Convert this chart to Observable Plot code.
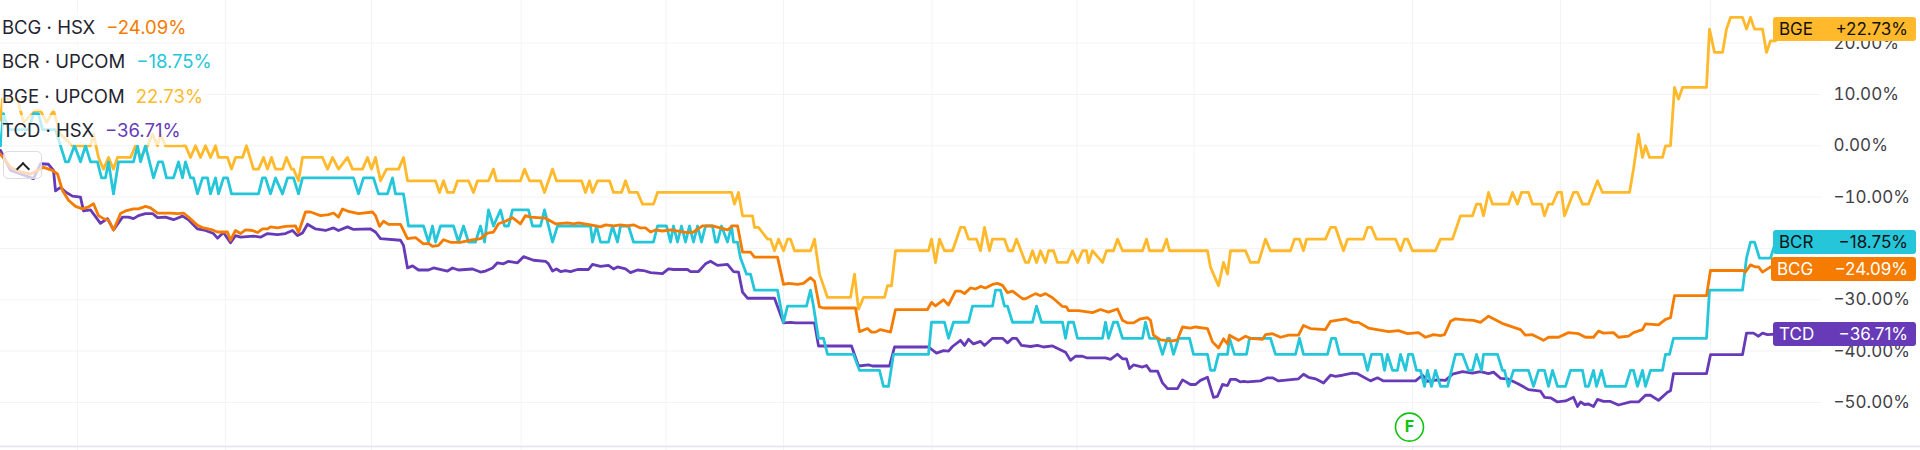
<!DOCTYPE html>
<html>
<head>
<meta charset="utf-8">
<script src="https://cdn.jsdelivr.net/npm/d3@7"></script>
<script src="https://cdn.jsdelivr.net/npm/@observablehq/plot@0.6"></script>
<style>
html,body{margin:0;padding:0;background:#fff;overflow:hidden}
#wrap{position:relative;width:1920px;height:450px;font-family:Inter,sans-serif}
svg{display:block}
.row{position:absolute;left:2px;height:30px;line-height:30px;font-size:18.5px;color:#1f2430;background:rgba(255,255,255,.7);white-space:pre;padding-right:2px}
.row span{margin-left:11px}
.tag{position:absolute;right:4px;height:24px;line-height:24px;font-size:17px;border-radius:3px;box-sizing:border-box}
.tag b{font-weight:400;position:absolute;left:6px;top:0}
.tag i{font-style:normal;position:absolute;right:8px;top:0}
#btn{position:absolute;left:2.5px;top:151px;width:39px;height:28px;box-sizing:border-box;border:1px solid #dcdce2;border-radius:5px;background:rgba(255,255,255,.72)}
#btn:after{content:"";position:absolute;left:14px;top:12px;width:8px;height:8px;border-left:2px solid #222;border-top:2px solid #222;transform:rotate(45deg)}
</style>
</head>
<body>
<div id="wrap"></div>
<script>
const gridTimes = [77,225,371,520.7,665.5,783,931.5,1076.5,1193.5,1412,1560,1710];
const gridValues = [20,10,0,-10,-20,-30,-40,-50];
const baseline = -58.6;
const fundEvent = {t:1409, v:-54.8, label:"F"};

const names = ["BCG · HSX","BCR · UPCOM","BGE · UPCOM","TCD · HSX"];
const symbols = ["BCG","BCR","BGE","TCD"];
const lastValues = [-24.09,-18.75,22.73,-36.71];
const colors = ["#f57c00","#26c6da","#ffb92b","#673ab7"];

// each pair: [time position, % change]
const bge = [[0,5],[2,9.09],[17,9.09],[23,4.55],[35,6.82],[40,6.82],[46,4.55],[53,6.82],[60,2.27],[72,0],[90,0],[93,2.27],[98,-2.27],[103,-4.55],[108,-2.27],[113,-4.55],[117,-2.27],[130,-2.27],[135,0],[140,-2.27],[147,0],[152,2.27],[157,0],[160,2.27],[165,0],[185,0],[190,-2.27],[195,0],[200,-2.27],[205,0],[210,-2.27],[215,0],[218,-2.27],[227,-2.27],[231,-4.55],[235,-2.27],[242,-2.27],[246,0],[253,-4.55],[258,-4.55],[263,-2.27],[267,-4.55],[271,-2.27],[275,-4.55],[282,-4.55],[286,-2.27],[291,-4.55],[293,-4.55],[298,-6.82],[302,-2.27],[322,-2.27],[327,-4.55],[332,-2.27],[338,-4.55],[347,-2.27],[352,-4.55],[362,-4.55],[367,-2.27],[371,-4.55],[375,-2.27],[380,-6.82],[386,-4.55],[398,-4.55],[403,-2.27],[407,-6.82],[435,-6.82],[439,-9.09],[443,-6.82],[447,-9.09],[453,-9.09],[457,-6.82],[468,-6.82],[473,-9.09],[477,-6.82],[488,-6.82],[493,-4.55],[496,-6.82],[520,-6.82],[524,-4.55],[529,-6.82],[540,-6.82],[544,-9.09],[552,-4.55],[556,-6.82],[581,-6.82],[585,-9.09],[589,-6.82],[592,-9.09],[597,-6.82],[609,-6.82],[613,-9.09],[621,-9.09],[625,-6.82],[629,-9.09],[637,-9.09],[642,-11.36],[653,-11.36],[657,-9.09],[731,-9.09],[734,-11.36],[738,-9.09],[742,-13.64],[752,-13.64],[754,-15.91],[758,-15.91],[767,-18.18],[770,-18.18],[774,-20.45],[778,-18.18],[783,-20.45],[787,-18.18],[790,-18.18],[794,-20.45],[810,-20.45],[814,-18.18],[819,-25],[827,-29.55],[850,-29.55],[854,-25],[858,-31.82],[863,-29.55],[884,-29.55],[887,-27.27],[891,-27.27],[895,-20.45],[928,-20.45],[931,-18.18],[935,-22.73],[939,-18.18],[944,-20.45],[952,-20.45],[960,-15.91],[964,-15.91],[968,-18.18],[976,-18.18],[980,-20.45],[984,-15.91],[989,-20.45],[992,-18.18],[1004,-18.18],[1008,-20.45],[1012,-20.45],[1016,-18.18],[1025,-22.73],[1028,-22.73],[1032,-20.45],[1036,-22.73],[1040,-20.45],[1045,-22.73],[1048,-20.45],[1053,-20.45],[1057,-22.73],[1067,-22.73],[1072,-20.45],[1077,-22.73],[1082,-20.45],[1086,-20.45],[1088,-22.73],[1092,-20.45],[1102,-22.73],[1106,-20.45],[1113,-20.45],[1117,-18.18],[1122,-20.45],[1142,-20.45],[1146,-18.18],[1149,-20.45],[1162,-20.45],[1166,-18.18],[1169,-20.45],[1207,-20.45],[1210,-23.64],[1218,-27.27],[1223,-22.73],[1227,-25],[1230,-20.45],[1245,-20.45],[1250,-22.73],[1258,-22.73],[1265,-18.18],[1270,-20.45],[1290,-20.45],[1294,-18.18],[1299,-18.18],[1303,-20.45],[1306,-18.18],[1325,-18.18],[1330,-15.91],[1335,-15.91],[1343,-20.45],[1347,-18.18],[1363,-18.18],[1367,-15.91],[1371,-15.91],[1376,-18.18],[1395,-18.18],[1400,-20.45],[1404,-18.18],[1407,-18.18],[1412,-20.45],[1435,-20.45],[1440,-18.18],[1452,-18.18],[1460,-13.64],[1472,-13.64],[1476,-11.36],[1480,-11.36],[1483,-13.64],[1488,-9.09],[1492,-11.36],[1508,-11.36],[1512,-9.09],[1517,-11.36],[1521,-9.09],[1528,-9.09],[1532,-11.36],[1541,-11.36],[1544,-13.64],[1548,-11.36],[1552,-11.36],[1557,-9.09],[1561,-9.09],[1564,-13.64],[1573,-9.09],[1577,-9.09],[1582,-11.36],[1588,-11.36],[1597,-6.82],[1602,-9.09],[1629,-9.09],[1633,-4.55],[1638,2.27],[1642,-2.27],[1645,0],[1649,-2.27],[1662,-2.27],[1665,0],[1670,0],[1674,11.36],[1678,9.09],[1682,11.36],[1706,11.36],[1709,22.73],[1714,18.18],[1722,18.18],[1726,22.73],[1730,25],[1742,25],[1746,22.73],[1750,25],[1754,22.73],[1762,22.73],[1766,18.18],[1770,20.45],[1775,20.45],[1778,22.73]];

const bcr = [[0,0],[3,6.25],[8,3.13],[28,3.13],[33,6.25],[38,6.25],[42,3.13],[55,3.13],[65,-3.13],[68,-3.13],[74,0],[80,-3.13],[85,0],[90,-3.13],[97,-3.13],[101,-6.25],[105,-6.25],[108,-3.13],[113,-9.38],[118,-3.13],[133,-3.13],[137,0],[140,-3.13],[145,0],[153,-6.25],[158,-3.13],[162,-3.13],[166,-6.25],[173,-6.25],[178,-3.13],[182,-6.25],[185,-3.13],[190,-6.25],[193,-6.25],[197,-9.38],[202,-6.25],[207,-6.25],[210,-9.38],[215,-6.25],[218,-9.38],[223,-6.25],[227,-6.25],[231,-9.38],[258,-9.38],[262,-6.25],[265,-6.25],[270,-9.38],[275,-6.25],[282,-9.38],[287,-6.25],[293,-6.25],[298,-9.38],[302,-6.25],[353,-6.25],[358,-9.38],[363,-6.25],[373,-6.25],[378,-9.38],[387,-9.38],[392,-6.25],[395,-9.38],[403,-9.38],[408,-15.63],[423,-15.63],[428,-18.75],[432,-15.63],[435,-18.75],[440,-15.63],[453,-15.63],[458,-18.75],[463,-15.63],[468,-18.75],[475,-18.75],[480,-15.63],[484,-18.75],[488,-12.5],[493,-15.63],[500,-12.5],[504,-15.63],[508,-15.63],[512,-12.5],[528,-12.5],[532,-15.63],[540,-15.63],[544,-12.5],[552,-18.75],[557,-15.63],[590,-15.63],[592,-18.75],[596,-15.63],[600,-18.75],[608,-18.75],[612,-15.63],[617,-18.75],[620,-15.63],[628,-15.63],[633,-18.75],[653,-18.75],[657,-15.63],[666,-15.63],[670,-18.75],[673,-15.63],[677,-18.75],[681,-15.63],[685,-18.75],[689,-15.63],[693,-18.75],[697,-15.63],[701,-18.75],[705,-15.63],[712,-15.63],[715,-18.75],[717,-18.75],[721,-15.63],[727,-18.75],[731,-15.63],[733,-18.75],[737,-18.75],[740,-21.88],[746,-25],[750,-25],[754,-28.13],[777,-28.13],[783,-34.38],[787,-31.25],[806,-31.25],[810,-28.13],[813,-31.25],[818,-37.5],[823,-37.5],[827,-40.63],[853,-40.63],[859,-43.75],[879,-43.75],[883,-46.88],[888,-46.88],[893,-40.63],[928,-40.63],[931,-34.38],[944,-34.38],[948,-37.5],[953,-34.38],[968,-34.38],[972,-31.25],[992,-31.25],[995,-28.13],[1000,-28.13],[1004,-31.25],[1007,-31.25],[1012,-34.38],[1032,-34.38],[1036,-31.25],[1041,-34.38],[1062,-34.38],[1065,-37.5],[1068,-34.38],[1073,-34.38],[1077,-37.5],[1102,-37.5],[1105,-34.38],[1108,-37.5],[1113,-34.38],[1117,-34.38],[1122,-37.5],[1142,-37.5],[1145,-34.38],[1149,-37.5],[1157,-37.5],[1162,-40.63],[1167,-37.5],[1169,-37.5],[1173,-40.63],[1178,-37.5],[1189,-37.5],[1193,-40.63],[1207,-40.63],[1210,-43.75],[1214,-43.75],[1218,-40.63],[1227,-40.63],[1229,-37.5],[1234,-40.63],[1246,-40.63],[1249,-37.5],[1270,-37.5],[1275,-40.63],[1295,-40.63],[1299,-37.5],[1303,-40.63],[1327,-40.63],[1331,-37.5],[1335,-37.5],[1339,-40.63],[1363,-40.63],[1367,-43.75],[1371,-40.63],[1381,-40.63],[1384,-43.75],[1387,-40.63],[1392,-43.75],[1397,-43.75],[1400,-40.63],[1405,-43.75],[1408,-40.63],[1412,-40.63],[1416,-43.75],[1420,-43.75],[1424,-46.88],[1427,-43.75],[1431,-46.88],[1435,-43.75],[1440,-46.88],[1447,-46.88],[1455,-40.63],[1462,-40.63],[1468,-43.75],[1472,-43.75],[1476,-40.63],[1481,-43.75],[1483,-40.63],[1497,-40.63],[1502,-43.75],[1504,-43.75],[1508,-46.88],[1513,-43.75],[1528,-43.75],[1533,-46.88],[1538,-43.75],[1544,-43.75],[1548,-46.88],[1552,-43.75],[1557,-46.88],[1565,-46.88],[1570,-43.75],[1582,-43.75],[1585,-46.88],[1588,-46.88],[1593,-43.75],[1596,-46.88],[1601,-43.75],[1605,-46.88],[1625,-46.88],[1630,-43.75],[1633,-43.75],[1637,-46.88],[1642,-43.75],[1645,-46.88],[1650,-43.75],[1662,-43.75],[1665,-40.63],[1669,-40.63],[1673,-37.5],[1706,-37.5],[1709,-28.13],[1742,-28.13],[1746,-21.88],[1750,-18.75],[1754,-18.75],[1759,-21.88],[1770,-21.88],[1775,-18.75]];

const bcg = [[0,-1.6],[10,-4.2],[20,-5.1],[30,-5.5],[40,-4.5],[43,-4.2],[52,-4.8],[57,-5.5],[62,-8.7],[68,-10.6],[75,-11.8],[82,-12.3],[88,-11.9],[93,-11.3],[98,-13.6],[103,-14.2],[108,-14.5],[113,-16.4],[120,-13.2],[125,-12.7],[133,-12.3],[138,-12.3],[145,-11.8],[150,-12.1],[157,-13.1],[170,-13.1],[177,-13.2],[183,-13.1],[188,-13.9],[197,-15.5],[203,-16],[212,-16.4],[217,-16.8],[227,-16.8],[230,-18.4],[235,-16.5],[240,-17.1],[245,-16.4],[252,-16.5],[257,-16.9],[262,-16.2],[267,-16.2],[270,-15.8],[277,-16],[285,-15.7],[295,-15.6],[298,-16.9],[305,-12.9],[310,-12.9],[320,-13.6],[328,-13.4],[333,-13.1],[338,-13.9],[342,-12.3],[348,-12.8],[358,-13.2],[372,-12.9],[375,-13.6],[379,-15.7],[383,-14.7],[388,-15.3],[400,-15.3],[407,-18.1],[415,-17.9],[423,-19.1],[428,-19],[432,-19.6],[438,-19.4],[443,-18.3],[450,-18.8],[460,-18.8],[470,-18.4],[480,-18.1],[487,-17],[493,-16.8],[498,-15.2],[505,-14.7],[512,-14],[520,-15.2],[525,-13.6],[530,-13.9],[545,-14.1],[555,-15.2],[567,-15],[573,-15.2],[578,-15],[590,-15.4],[600,-15.8],[605,-15.4],[613,-15.6],[620,-15.4],[627,-15.6],[633,-15.4],[640,-16],[645,-16],[650,-16.8],[655,-16.4],[662,-16.6],[670,-16.4],[687,-16.9],[693,-16.8],[702,-15.6],[712,-15.6],[727,-16.4],[732,-15.6],[737,-15.6],[742,-20.7],[750,-20.7],[754,-21.7],[777,-21.7],[783,-27],[788,-26.8],[797,-27],[803,-26.8],[810,-25.7],[814,-26.4],[819,-31.4],[823,-31.6],[855,-31.6],[859,-36.2],[867,-35.6],[871,-36.3],[875,-36.3],[880,-35.8],[890,-36.3],[895,-31.9],[927,-31.9],[931,-30.5],[935,-31.2],[943,-30],[948,-31],[955,-28.3],[960,-28.3],[964,-28.8],[970,-27.7],[975,-27.9],[980,-27.4],[985,-27.7],[992,-27],[997,-26.8],[1002,-27.2],[1007,-28.6],[1012,-28.3],[1022,-29.8],[1025,-29.8],[1035,-28.8],[1040,-29.2],[1045,-28.8],[1052,-29.6],[1062,-31.3],[1066,-31.4],[1068,-32.1],[1078,-32.1],[1092,-32.5],[1100,-31.9],[1108,-32.4],[1117,-31.8],[1122,-34],[1127,-34.5],[1133,-34.5],[1140,-33.7],[1147,-33.5],[1150,-34],[1153,-36.9],[1160,-37.8],[1165,-37.9],[1172,-38],[1177,-37.8],[1182,-35.3],[1190,-35.5],[1195,-35.3],[1207,-35.6],[1212,-38.2],[1218,-39.4],[1223,-37.6],[1227,-38.6],[1229,-36.9],[1238,-37.9],[1245,-37.1],[1250,-37.5],[1262,-37.7],[1265,-36.8],[1272,-36.6],[1280,-37.3],[1288,-36.9],[1298,-36.9],[1303,-35],[1310,-35.6],[1325,-35.8],[1330,-34.2],[1345,-33.7],[1353,-34.4],[1358,-34.4],[1368,-35.5],[1388,-36.2],[1398,-36],[1407,-36.6],[1418,-36.4],[1425,-37.3],[1433,-36.8],[1440,-37],[1444,-36.8],[1450,-34.2],[1455,-33.7],[1465,-33.9],[1473,-34],[1480,-34.4],[1488,-33.2],[1503,-34.7],[1520,-35.8],[1525,-36.9],[1532,-36.8],[1543,-37.9],[1548,-37.3],[1558,-37.3],[1568,-36.4],[1578,-36.6],[1585,-37.3],[1593,-37.3],[1598,-36.1],[1603,-36.5],[1613,-36.4],[1618,-37.3],[1628,-37.1],[1633,-36.4],[1642,-35.8],[1645,-34.7],[1658,-34.9],[1665,-33.8],[1670,-33.5],[1674,-29.2],[1706,-29.2],[1710,-24.3],[1742,-24.3],[1745,-24.6],[1750,-23.2],[1755,-23.6],[1758,-23.6],[1762,-24.6],[1770,-23.6],[1775,-24.09]];

const tcd = [[0,-0.9],[10,-4.8],[20,-5.5],[33,-6.4],[40,-3.5],[48,-3.6],[53,-4.8],[55,-8.8],[60,-8.1],[65,-9],[72,-9.8],[80,-10],[83,-12.7],[90,-12.5],[100,-15.1],[107,-14.2],[113,-16.4],[122,-13.9],[128,-13.9],[133,-14.2],[138,-13.6],[145,-13.2],[152,-13.2],[157,-14],[165,-13.9],[173,-14.4],[182,-13.7],[188,-14.4],[197,-16.2],[205,-16.5],[213,-17.1],[217,-18],[223,-16.9],[230,-18.9],[235,-17.5],[240,-17.8],[253,-17.6],[260,-17.8],[267,-17.1],[277,-17.3],[285,-17.1],[292,-16.5],[297,-17.5],[302,-17],[307,-15.3],[315,-16.2],[325,-16.5],[333,-16],[338,-16.5],[347,-15.8],[353,-16.3],[370,-16.2],[375,-16.8],[380,-18.1],[400,-18.4],[403,-19.4],[407,-23.8],[412,-23.4],[418,-24.2],[428,-24.2],[433,-23.8],[447,-24.4],[452,-23.8],[458,-24.2],[472,-24],[480,-24.6],[485,-24.4],[492,-23.8],[497,-22.8],[503,-23],[508,-22.5],[517,-22.8],[523,-21.6],[533,-22.3],[545,-22.5],[548,-23],[552,-24.4],[556,-24],[560,-24.5],[565,-24.3],[570,-24.5],[577,-24.1],[588,-24.1],[592,-23.1],[600,-23.5],[608,-23.3],[613,-24],[617,-23.6],[625,-24],[630,-24.7],[637,-24.2],[643,-24.3],[650,-24.7],[662,-24.9],[668,-24],[673,-24.1],[687,-24.1],[690,-24.5],[698,-24.5],[705,-23],[710,-22.5],[717,-23.3],[727,-23.1],[733,-24.5],[738,-24.6],[742,-28.5],[747,-29.7],[774,-29.7],[783,-34.5],[790,-34.4],[795,-34.5],[814,-34.5],[818,-39],[851,-39],[858,-42.9],[868,-42.7],[872,-42.9],[889,-42.9],[894,-39.2],[928,-39.2],[936,-40.4],[943,-39.9],[948,-40],[952,-39.1],[960,-37.9],[964,-38.9],[968,-37.7],[973,-38.6],[980,-38.1],[984,-38.9],[992,-37.5],[1002,-37.5],[1007,-38.4],[1012,-37.5],[1016,-37.5],[1021,-38.9],[1030,-39.1],[1037,-38.9],[1043,-39.2],[1052,-39],[1065,-40.2],[1070,-41.8],[1075,-41],[1082,-41],[1086,-41.3],[1105,-41.3],[1110,-41.6],[1117,-40.6],[1122,-41.5],[1126,-41.5],[1129,-43.4],[1133,-42.7],[1142,-43.1],[1146,-42.8],[1150,-43.9],[1157,-43.9],[1162,-46.2],[1167,-47.3],[1177,-47.3],[1182,-45.6],[1190,-46.5],[1195,-46.5],[1200,-45.7],[1207,-45.1],[1213,-49],[1217,-48.8],[1222,-46.5],[1227,-46.7],[1230,-45.5],[1235,-45.5],[1240,-46],[1243,-45.9],[1247,-46],[1260,-45.8],[1267,-45.2],[1272,-45.2],[1278,-45.8],[1298,-45.4],[1303,-44.5],[1308,-45.1],[1315,-45.4],[1323,-46.2],[1330,-44.7],[1335,-44.9],[1342,-44.7],[1352,-44.3],[1357,-44.4],[1370,-45.8],[1377,-45.2],[1383,-45.8],[1415,-45.8],[1422,-44.7],[1427,-45.9],[1437,-45.6],[1445,-45.7],[1452,-44.5],[1462,-44],[1472,-44.3],[1480,-44],[1488,-44.4],[1493,-44.1],[1500,-45.3],[1507,-45.4],[1518,-46.4],[1528,-47.5],[1540,-47.8],[1544,-49],[1550,-49.1],[1557,-49.9],[1565,-49.7],[1573,-49],[1577,-50.8],[1580,-49.9],[1584,-50.4],[1588,-50.3],[1593,-50.8],[1597,-49.4],[1603,-49.8],[1610,-49.8],[1618,-50.5],[1630,-49.9],[1638,-49.9],[1645,-48.6],[1650,-48.6],[1658,-49.6],[1667,-48],[1670,-47.7],[1673,-44.4],[1706,-44.4],[1710,-40.7],[1742,-40.7],[1746,-36.5],[1753,-36.5],[1758,-37.1],[1762,-36.5],[1767,-36.8],[1775,-36.71]];

const fmt = d => (d < 0 ? "\u2212" : "") + Math.abs(d).toFixed(2) + "%";
const line = (data, i) => Plot.line(data, {x: d => d[0], y: d => d[1], stroke: colors[i], strokeWidth: 2.8, strokeLinejoin: "round", curve: "linear"});

const chart = Plot.plot({
  width: 1920, height: 450,
  marginLeft: 0, marginRight: 99, marginTop: 0, marginBottom: 0,
  style: {fontFamily: "Inter, sans-serif", background: "#fff"},
  x: {domain: [0, 1821], axis: null},
  y: {domain: [-59.36, 28.3], axis: null},
  marks: [
    Plot.ruleX(gridTimes, {stroke: "#f3f3f6", strokeWidth: 1}),
    Plot.ruleY(gridValues, {x1: 0, x2: 1821, stroke: "#f3f3f6", strokeWidth: 1}),
    Plot.ruleY([baseline], {x1: 0, x2: 1920, stroke: "#e2e3ee", strokeWidth: 1.5}),
    Plot.axisY(gridValues, {anchor: "right", tickSize: 0, tickPadding: 12, textAnchor: "start", tickFormat: fmt, fontSize: 17, fill: "#3f4147", label: null}),
    line(tcd, 3), line(bge, 2), line(bcr, 1), line(bcg, 0),
    Plot.dot([fundEvent], {x: "t", y: "v", r: 14, fill: "#fff", stroke: "#0fc40f", strokeWidth: 1.6}),
    Plot.text([fundEvent], {x: "t", y: "v", text: "label", fill: "#0fc40f", fontSize: 16, fontWeight: 700})
  ]
});
const wrap = document.getElementById("wrap");
wrap.appendChild(chart);

const rowTop = [12, 46, 81, 115];
names.forEach((n, i) => {
  const r = document.createElement("div");
  r.className = "row";
  r.style.top = rowTop[i] + "px";
  r.textContent = n;
  const s = document.createElement("span");
  s.style.color = colors[i];
  s.textContent = (lastValues[i] < 0 ? "\u2212" : "") + Math.abs(lastValues[i]).toFixed(2) + "%";
  r.appendChild(s);
  wrap.appendChild(r);
});
const btn = document.createElement("div"); btn.id = "btn"; wrap.appendChild(btn);

const y = chart.scale("y");
const textColor = ["#fff", "#111", "#111", "#fff"];
[2, 1, 0, 3].forEach(i => {
  const t = document.createElement("div");
  t.className = "tag";
  t.style.top = (y.apply(lastValues[i]) - 12) + "px";
  t.style.left = (i === 0 ? 1771 : 1773) + "px";
  t.style.background = colors[i];
  t.style.color = textColor[i];
  t.innerHTML = `<b>${symbols[i]}</b><i>${(lastValues[i] < 0 ? "\u2212" : "+") + Math.abs(lastValues[i]).toFixed(2)}%</i>`;
  wrap.appendChild(t);
});
</script>
</body>
</html>
